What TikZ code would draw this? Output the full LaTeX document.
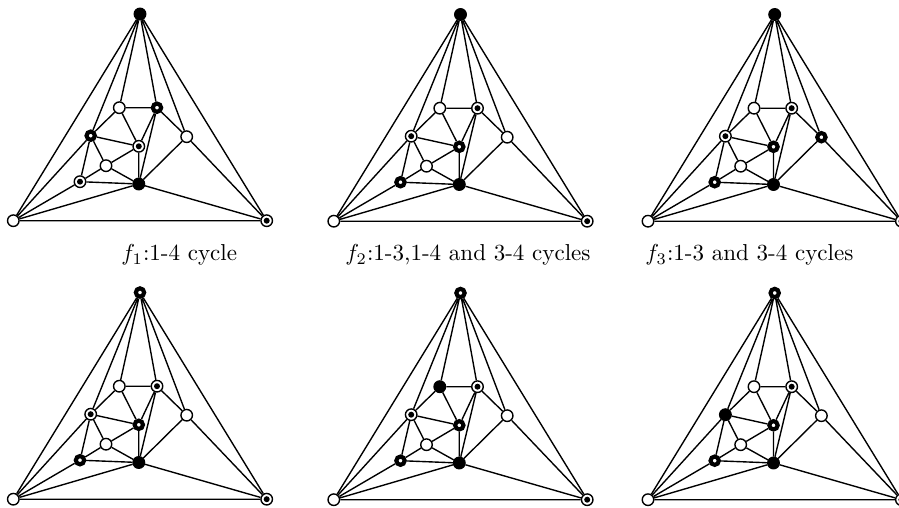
\documentclass[tikz,border=0pt]{standalone}
\usepackage{amsmath,amssymb}
\usepackage{tikz}

\tikzset{
  vx/.style={circle,draw,fill=white,inner sep=0pt,minimum size=5pt,line width=0.6pt},
  wht/.style={vx},
  blk/.style={vx,fill=black},
  dotv/.style={vx,path picture={\fill[black] (path picture bounding box.center) circle (1.3pt);}},
  ring/.style={vx,line width=1.8pt,minimum size=3.6pt},
}

% one copy of the graph, vertex looks come from vT ... vh
\newcommand{\cyclegraph}{%
  \node[vT] (T) at (140,14) {};
  \node[vL] (L) at (13.3,220.7) {};
  \node[vR] (R) at (266.7,220.7) {};
  \node[va] (a) at (119.3,107.7) {};
  \node[vb] (b) at (157,107.7) {};
  \node[vc] (c) at (90.7,135.7) {};
  \node[vd] (d) at (138.8,146.3) {};
  \node[ve] (e) at (186.7,136.7) {};
  \node[vf] (f) at (106,165.7) {};
  \node[vg] (g) at (80,181.7) {};
  \node[vh] (h) at (138.8,184) {};
  \draw (T) -- (L) (T) -- (R) (L) -- (R);
  \draw (T) -- (c) (T) -- (a) (T) -- (b) (T) -- (e);
  \draw (L) -- (c) (L) -- (g) (L) -- (h) (R) -- (h) (R) -- (e);
  \draw (a) -- (b) (a) -- (c) (a) -- (d);
  \draw (b) -- (e) (b) -- (d) (b) -- (h);
  \draw (c) -- (d) (c) -- (f) (c) -- (g);
  \draw (d) -- (f) (d) -- (h) (e) -- (h);
  \draw (f) -- (g) (f) -- (h) (g) -- (h);
}

\begin{document}
\begin{tikzpicture}[x=0.4338pt,y=-0.4338pt,line width=0.6pt,font=\normalsize,
  vT/.style=blk,vL/.style=wht,vR/.style=dotv,va/.style=wht,vb/.style=dotv,
  vc/.style=dotv,vd/.style=ring,ve/.style=wht,vf/.style=wht,vg/.style=ring,
  vh/.style=blk]
\useasboundingbox (0,0) rectangle (899,508);

\begin{scope}[name prefix=g1-,vb/.style=ring,vc/.style=ring,vd/.style=dotv,vg/.style=dotv]
\cyclegraph
\end{scope}
\begin{scope}[shift={(320.5,0.5)},name prefix=g2-]
\cyclegraph
\end{scope}
\begin{scope}[shift={(634.7,0.5)},name prefix=g3-,ve/.style=ring]
\cyclegraph
\end{scope}

\begin{scope}[shift={(0,278.5)},name prefix=g4-,vT/.style=ring]
\cyclegraph
\end{scope}
\begin{scope}[shift={(320.5,279)},name prefix=g5-,vT/.style=ring,va/.style=blk]
\cyclegraph
\end{scope}
\begin{scope}[shift={(634.7,279)},name prefix=g6-,vT/.style=ring,vc/.style=blk]
\cyclegraph
\end{scope}

\node[anchor=base west] (cap1) at (113,261) {$f_1$:1-4 cycle};
\node[anchor=base west] (cap2) at (337,261) {$f_2$:1-3,1-4 and 3-4 cycles};
\node[anchor=base west] (cap3) at (637,261) {$f_3$:1-3 and 3-4 cycles};
\end{tikzpicture}
\end{document}
